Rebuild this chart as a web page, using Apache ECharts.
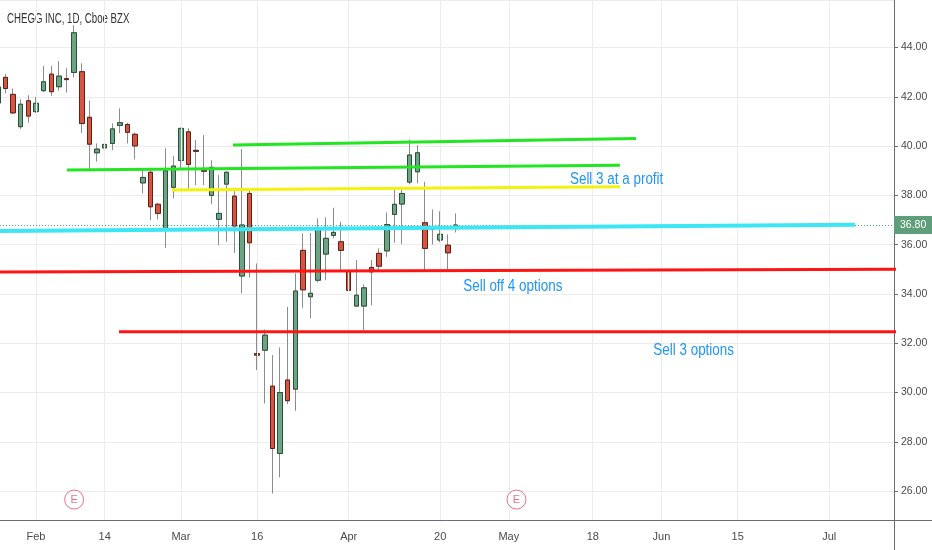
<!DOCTYPE html>
<html><head><meta charset="utf-8">
<script src="https://cdn.jsdelivr.net/npm/echarts@6/dist/echarts.min.js"></script>
<style>html,body{margin:0;padding:0;background:#fff}#c{width:932px;height:550px}</style>
</head><body><div id="c"></div>
<script>
// ---------- DATA ----------
const dates = [
 '2020-01-27','2020-01-28','2020-01-29','2020-01-30','2020-01-31',
 '2020-02-03','2020-02-04','2020-02-05','2020-02-06','2020-02-07','2020-02-10','2020-02-11','2020-02-12','2020-02-13','2020-02-14',
 '2020-02-18','2020-02-19','2020-02-20','2020-02-21','2020-02-24','2020-02-25','2020-02-26','2020-02-27','2020-02-28',
 '2020-03-02','2020-03-03','2020-03-04','2020-03-05','2020-03-06','2020-03-09','2020-03-10','2020-03-11','2020-03-12','2020-03-13',
 '2020-03-16','2020-03-17','2020-03-18','2020-03-19','2020-03-20','2020-03-23','2020-03-24','2020-03-25','2020-03-26','2020-03-27',
 '2020-03-30','2020-03-31','2020-04-01','2020-04-02','2020-04-03','2020-04-06','2020-04-07','2020-04-08','2020-04-09',
 '2020-04-13','2020-04-14','2020-04-15','2020-04-16','2020-04-17','2020-04-20','2020-04-21','2020-04-22','2020-04-23','2020-04-24',
 '2020-04-27','2020-04-28','2020-04-29','2020-04-30','2020-05-01','2020-05-04','2020-05-05','2020-05-06','2020-05-07','2020-05-08',
 '2020-05-11','2020-05-12','2020-05-13','2020-05-14','2020-05-15','2020-05-18','2020-05-19','2020-05-20','2020-05-21','2020-05-22',
 '2020-05-26','2020-05-27','2020-05-28','2020-05-29','2020-06-01','2020-06-02','2020-06-03','2020-06-04','2020-06-05',
 '2020-06-08','2020-06-09','2020-06-10','2020-06-11','2020-06-12','2020-06-15','2020-06-16','2020-06-17','2020-06-18','2020-06-19',
 '2020-06-22','2020-06-23','2020-06-24','2020-06-25','2020-06-26','2020-06-29','2020-06-30','2020-07-01','2020-07-02',
 '2020-07-06','2020-07-07','2020-07-08','2020-07-09','2020-07-10','2020-07-13','2020-07-14'
];
const opens = [
 41.75,42.79,42.10,40.79,41.84,41.40,42.25,42.92,42.41,42.74,
 42.99,43.02,41.17,39.73,39.93,40.11,40.84,40.88,40.48,38.51,
 38.94,37.64,36.65,38.33,39.42,40.58,39.83,39.03,38.00,37.03,
 38.46,37.97,34.73,38.08,31.58,31.72,30.26,27.53,30.51,30.14,
 35.77,33.89,34.56,35.62,36.38,36.12,34.93,33.51,33.51,35.08,
 35.65,35.75,37.23,37.65,38.54,38.96,36.89,36.63,36.19,35.98,36.74
];
const closes = [
 42.40,42.34,41.35,41.70,41.22,41.74,42.61,42.21,42.84,42.70,
 44.60,40.92,40.08,39.88,40.07,40.70,40.95,40.56,40.01,38.73,
 37.54,37.27,39.00,39.19,40.72,39.26,39.79,38.98,39.14,37.27,
 38.94,36.76,36.80,36.08,31.52,32.33,27.73,30.00,29.67,34.12,
 34.17,34.03,36.63,36.26,36.50,35.77,34.15,33.95,34.25,34.90,
 35.13,36.82,37.64,38.08,39.64,39.73,35.85,36.74,36.42,35.67,36.80
];
const highs = [
 42.55,42.92,42.34,41.90,42.07,42.00,43.25,43.25,43.45,43.16,
 44.91,43.36,41.84,40.11,40.25,40.92,41.53,40.95,40.55,39.10,
 39.10,37.70,39.91,39.60,40.75,40.72,40.25,40.45,39.43,38.83,
 38.98,38.29,39.88,38.29,35.24,32.56,31.52,31.83,33.48,34.84,
 36.46,36.48,37.07,37.11,37.50,36.93,35.31,35.38,34.39,35.38,
 35.85,37.31,38.31,38.35,40.27,40.04,38.55,37.43,37.36,36.42,37.27
];
const lows = [
 41.60,42.14,41.30,40.70,40.95,41.35,42.20,42.04,42.25,42.17,
 42.79,40.54,39.03,39.37,39.60,39.84,40.52,40.11,39.46,38.08,
 37.00,37.03,35.87,37.88,39.10,38.22,38.42,38.42,37.64,35.98,
 36.12,35.67,34.02,34.67,30.91,29.56,25.91,26.56,29.53,29.26,
 33.44,33.01,34.47,34.56,36.26,34.97,33.75,33.48,32.53,33.55,
 34.97,35.51,36.08,36.03,38.45,38.49,34.97,36.01,36.10,34.94,36.50
];
const tickDates = ['2020-02-03','2020-02-14','2020-03-02','2020-03-16','2020-04-01','2020-04-20','2020-05-01','2020-05-18','2020-06-01','2020-06-15','2020-07-01'];
const tickTexts = ['Feb','14','Mar','16','Apr','20','May','18','Jun','15','Jul'];
const earningsDates = ['2020-02-10','2020-05-04'];
const earningsLevel = 25.66;
// drawn trend lines: [bar index (fractional), price]
const greenUpper = [[30.83,40.05],[83.67,40.31]];
const greenLower = [[9.06,39.03],[81.57,39.22]];
const yellowLine = [[22.83,38.22],[81.57,38.35]];
const cyanLine   = [[-1,36.55],[112.38,36.81]];
const redUpper   = [[-1,34.89],[118,35.00]];
const redLower   = [[15.88,32.47],[118,32.47]];
const noteTexts  = ['Sell 3 at a profit','Sell off 4 options','Sell 3 options'];
const notePoints = [[75.01,38.65],[61.02,34.30],[85.94,31.69]];
const titleText = 'CHEGG INC, 1D, Cboe BZX';
const yMin = 24.83, yMax = 45.93;

// ---------- CHART ----------
const FONT = '"Liberation Sans",Arial,sans-serif';
const AX = '#6a6d78';
const tickMap = new Map(tickDates.map((d,i)=>[d,tickTexts[i]]));
const chart = echarts.init(document.getElementById('c'), null, {renderer:'canvas'});
const lastClose = closes[closes.length-1];
function trend(pts, color, width){
  return {type:'line', xAxisIndex:1, yAxisIndex:0, data:pts, symbol:'none', silent:true, z:5,
          lineStyle:{color:color, width:width}, animation:false};
}
const option = {
  animation:false,
  backgroundColor:'#ffffff',
  textStyle:{fontFamily:FONT},
  grid:{left:-5.95, top:0, width:899.95, height:520, containLabel:false, outerBoundsMode:'none'},
  xAxis:[{
    type:'category', data:dates, boundaryGap:true,
    axisLine:{onZero:false, lineStyle:{color:AX}},
    axisTick:{interval:(i,v)=>tickMap.has(v), alignWithLabel:true, length:4, lineStyle:{color:AX}},
    axisLabel:{interval:(i,v)=>tickMap.has(v), formatter:v=>tickMap.get(v)||'', color:'#4a4a4a', fontSize:11, margin:11, fontFamily:FONT},
    splitLine:{show:false}
  },{
    type:'value', min:-0.5, max:dates.length-0.5, show:false,
    axisLine:{onZero:false}
  }],
  yAxis:{
    type:'value', position:'right', min:yMin, max:yMax, minInterval:2, maxInterval:2,
    axisLine:{show:true, onZero:false, lineStyle:{color:AX}},
    axisTick:{show:true, inside:false, length:4, lineStyle:{color:AX}},
    axisLabel:{showMinLabel:false, showMaxLabel:false, formatter:v=>v.toFixed(2), color:'#4a4a4a', fontSize:10.5, margin:7, fontFamily:FONT},
    splitLine:{show:true, lineStyle:{color:'#ececec'}}
  },
  series:[
    {type:'line', xAxisIndex:0, data:[], z:1, silent:true,
     markLine:{silent:true, symbol:['none','none'], animation:false, label:{show:false},
       lineStyle:{color:'#ececec', type:'solid', width:1},
       data:tickDates.map(d=>({xAxis:d}))}},
    {type:'candlestick', name:'wick', z:3, barWidth:5,
     data:opens.map((o,i)=>[o,closes[i],lows[i],highs[i]]),
     itemStyle:{color:'#6ba583', color0:'#d75442', borderColor:'#8c8c8c', borderColor0:'#8c8c8c', borderWidth:1},
     markLine:{silent:true, symbol:['none','none'], animation:false,
       data:[{yAxis:lastClose}],
       lineStyle:{color:'#4f9a86', type:[1,2], width:1},
       label:{show:true, position:'end', distance:0, formatter:()=>lastClose.toFixed(2),
         backgroundColor:'#5f9e7b', color:'#ffffff', fontSize:10.5, fontFamily:FONT, padding:[4,6,3,6]}}},
    {type:'candlestick', name:'body', z:4, barWidth:5,
     data:opens.map((o,i)=>[o,closes[i],Math.min(o,closes[i]),Math.max(o,closes[i])]),
     itemStyle:{color:'#6ba583', color0:'#d75442', borderColor:'#2c4f3a', borderColor0:'#5e2118', borderWidth:1}},
    trend(greenUpper,'#22e622',3),
    trend(greenLower,'#22e622',3),
    trend(yellowLine,'#f2f20c',3),
    trend(cyanLine,'#3de6f5',4),
    trend(redUpper,'#ff1414',3),
    trend(redLower,'#ff1414',3),
    {type:'scatter', xAxisIndex:0, yAxisIndex:0, z:6, silent:true, symbol:'circle', symbolSize:19,
     data:earningsDates.map(d=>[d, earningsLevel]),
     itemStyle:{color:'#ffffff', borderColor:'#e0506c', borderWidth:1},
     label:{show:true, position:'inside', formatter:'E', color:'#e0506c', fontSize:11, fontFamily:FONT}}
  ]
};
chart.setOption(option);

// Text drawn as graphic so it can be condensed like the reference's narrow font
const graphics = [
  {type:'text', id:'title', x:7, y:19.5, scaleX:0.69, silent:true,
   style:{text:titleText, fontSize:14, fontFamily:FONT, fill:'#333333', verticalAlign:'middle', align:'left'}},
  {type:'line', id:'axX', silent:true, shape:{x1:894, y1:520.5, x2:932, y2:520.5}, style:{stroke:AX, lineWidth:1}},
  {type:'line', id:'axY', silent:true, shape:{x1:894.5, y1:520, x2:894.5, y2:550}, style:{stroke:AX, lineWidth:1}}
];
notePoints.forEach((p,i)=>{
  const px = chart.convertToPixel({xAxisIndex:1, yAxisIndex:0}, p);
  graphics.push({type:'text', id:'note'+i, x:px[0], y:px[1], scaleX:0.84, silent:true, z:10,
    style:{text:noteTexts[i], fontSize:16, fontFamily:FONT, fill:'#2196f3', verticalAlign:'middle', align:'left'}});
});
chart.setOption({graphic:graphics});
</script>
</body></html>
